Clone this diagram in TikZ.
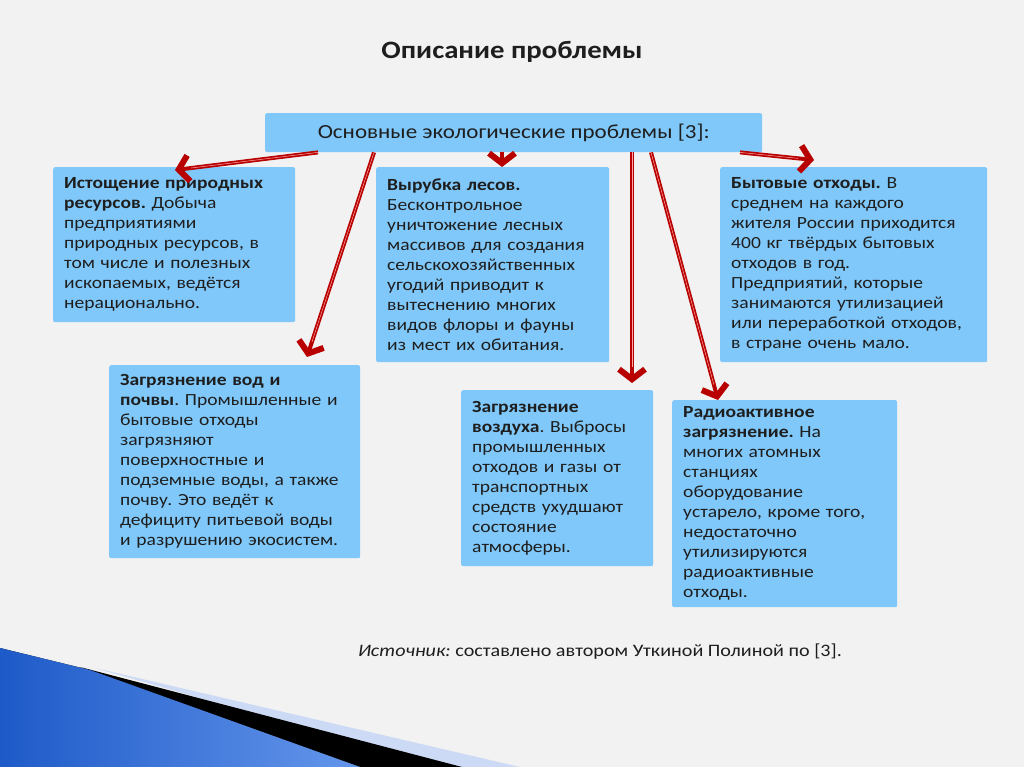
\documentclass[tikz,border=0pt]{standalone}
\usepackage{fontspec}
\setmainfont{Carlito}[FakeStretch=1.15]
\usetikzlibrary{arrows.meta, calc}
\frenchspacing

\definecolor{slidegray}{RGB}{242,242,242}
\definecolor{boxblue}{RGB}{128,200,250}
\definecolor{textdark}{RGB}{30,30,30}
\definecolor{arrowred}{RGB}{185,0,0}
\definecolor{swooshdark}{RGB}{30,90,200}
\definecolor{swooshlight}{RGB}{100,150,235}
\definecolor{stripeblue}{RGB}{205,218,245}

\tikzset{
    infobox/.style={fill=boxblue, rounded corners=2pt, anchor=north west, align=left,
        inner xsep=11pt, inner ysep=0pt, text=textdark,
        font=\fontsize{17}{20}\selectfont},
    redarrow/.style={draw=arrowred, line width=4pt,
        -{Straight Barb[length=10pt, width=26pt, line width=6pt]},
        postaction={draw=red!35!white, line width=0.5pt, shorten >=16pt, -}}
}

\begin{document}
\begin{tikzpicture}[x=1pt, y=-1pt]
        % Define dimensions
        \def\slidewidth{1024}
        \def\slideheight{767}
        % Slide background
        \fill[slidegray] (0,0) rectangle (\slidewidth,\slideheight);
        \useasboundingbox (0,0) rectangle (\slidewidth,\slideheight);
        % Decoration in the lower left corner
        \begin{scope}
            \fill[stripeblue] (95,668) -- (520,767) -- (440,767) -- cycle;
            \fill[black] (80,667) -- (462,767) -- (360,767) -- cycle;
            \fill[left color=swooshdark, right color=swooshlight] (0,648) -- (90,670) -- (360,767) -- (0,767) -- cycle;
        \end{scope}
        % Title
        \node[font=\fontsize{25}{28}\selectfont\bfseries, text=textdark] (title) at (512,52) {Описание проблемы};
        % Main box
        \node[infobox, align=center, minimum width=497pt, minimum height=39pt,
            font=\fontsize{20}{24}\selectfont] (top) at (265,113) {Основные экологические проблемы [3]:};
        % Problem boxes
        \node[infobox, text width=220pt, minimum height=155pt] (istoshch) at (53,167)
            {\textbf{Истощение природных}\\ \textbf{ресурсов.} Добыча\\ предприятиями\\ природных ресурсов, в\\ том числе и полезных\\ ископаемых, ведётся\\ нерационально.};
        \node[infobox, text width=211pt, minimum height=195pt] (vyrubka) at (376,167)
            {\textbf{Вырубка лесов.}\\ Бесконтрольное\\ уничтожение лесных\\ массивов для создания\\ сельскохозяйственных\\ угодий приводит к\\ вытеснению многих\\ видов флоры и фауны\\ из мест их обитания.};
        \node[infobox, text width=245pt, minimum height=195pt] (bytovye) at (720,167)
            {\textbf{Бытовые отходы.} В\\ среднем на каждого\\ жителя России приходится\\ 400 кг твёрдых бытовых\\ отходов в год.\\ Предприятий, которые\\ занимаются утилизацией\\ или переработкой отходов,\\ в стране очень мало.};
        \node[infobox, text width=229pt, minimum height=193pt] (voda) at (109,365)
            {\textbf{Загрязнение вод и}\\ \textbf{почвы}. Промышленные и\\ бытовые отходы\\ загрязняют\\ поверхностные и\\ подземные воды, а также\\ почву. Это ведёт к\\ дефициту питьевой воды\\ и разрушению экосистем.};
        \node[infobox, text width=170pt, minimum height=176pt] (vozdukh) at (461,390)
            {\textbf{Загрязнение}\\ \textbf{воздуха}. Выбросы\\ промышленных\\ отходов и газы от\\ транспортных\\ средств ухудшают\\ состояние\\ атмосферы.};
        \node[infobox, text width=203pt, minimum height=207pt] (radio) at (672,400)
            {\textbf{Радиоактивное}\\ \textbf{загрязнение.} На\\ многих атомных\\ станциях\\ оборудование\\ устарело, кроме того,\\ недостаточно\\ утилизируются\\ радиоактивные\\ отходы.};
        % Arrows from the main box
        \foreach \sx/\tgt/\ex/\ey in {53/istoshch/122/3, 109/voda/198/-8, 237/vyrubka/126/0,
                                     367/vozdukh/171/-7, 386/radio/46/0, 475/bytovye/94/-7}
            \draw[redarrow] ($(top.south west)+(\sx,0)$) -- ($(\tgt.north west)+(\ex,\ey)$);
        % Source
        \node[font=\fontsize{17.5}{20}\selectfont, text=textdark] (source) at (600,652)
            {\textit{Источник:} составлено автором Уткиной Полиной по [3].};
    \end{tikzpicture}
\end{document}
